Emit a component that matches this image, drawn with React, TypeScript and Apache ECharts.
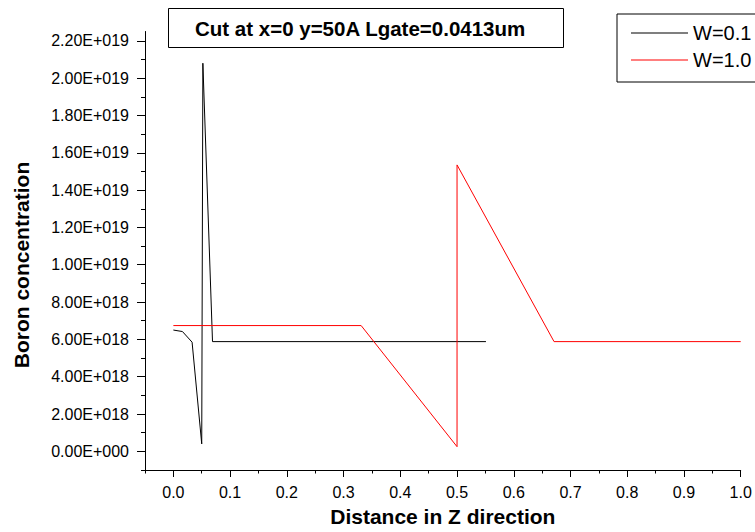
import React, { useEffect, useRef } from 'react';
import * as echarts from 'echarts';

// W=0.1 series (black)
const w01X = [0, 0.016, 0.033, 0.05, 0.052, 0.069, 0.551];
const w01Y = [6.5e18, 6.42e18, 5.85e18, 0.4e18, 2.08e19, 5.88e18, 5.88e18];
// W=1.0 series (red)
const w10X = [0, 0.331, 0.5, 0.5, 0.671, 1.0];
const w10Y = [6.74e18, 6.74e18, 0.25e18, 1.535e19, 5.88e18, 5.88e18];

const seriesNames = ['W=0.1', 'W=1.0'];
const seriesColors = ['#000000', '#ff0000'];

const xMajorTicks = [0, 0.1, 0.2, 0.3, 0.4, 0.5, 0.6, 0.7, 0.8, 0.9, 1.0];
const xMinorTicks = [-0.05, 0.05, 0.15, 0.25, 0.35, 0.45, 0.55, 0.65, 0.75, 0.85, 0.95];
const yMajorTicks = [0, 2e18, 4e18, 6e18, 8e18, 1e19, 1.2e19, 1.4e19, 1.6e19, 1.8e19, 2e19, 2.2e19];
const yMinorTicks = [-1e18, 1e18, 3e18, 5e18, 7e18, 9e18, 1.1e19, 1.3e19, 1.5e19, 1.7e19, 1.9e19, 2.1e19];

const chartTitle = 'Cut at x=0 y=50A Lgate=0.0413um';
const xTitle = 'Distance in Z direction';
const yTitle = 'Boron concentration';

const FONT = '"Liberation Sans", Arial, sans-serif';

function fmtE(v: number): string {
  if (v === 0) return '0.00E+000';
  const e = Math.floor(Math.log10(Math.abs(v)) + 1e-9);
  const m = v / Math.pow(10, e);
  return m.toFixed(2) + 'E+' + String(e).padStart(3, '0');
}

export default function App() {
  const ref = useRef<HTMLDivElement>(null);
  useEffect(() => {
    if (!ref.current) return;
    const chart = echarts.init(ref.current, null, { renderer: 'svg' });
    const xRange = { min: -0.05, max: 1.0 };
    const yRange = { min: -1e18, max: 2.25e19 };
    chart.setOption({
      animation: false,
      backgroundColor: '#ffffff',
      textStyle: { fontFamily: FONT, color: '#000' },
      title: {
        text: chartTitle,
        left: 168,
        top: 8,
        padding: [10, 38, 9, 27],
        borderColor: '#000',
        borderWidth: 1,
        textStyle: { fontFamily: FONT, fontSize: 20.5, fontWeight: 'bold', color: '#000' },
      },
      legend: {
        data: seriesNames,
        orient: 'vertical',
        left: 617,
        top: 14,
        padding: [9, 70, 12, 14],
        itemGap: 7,
        itemWidth: 57,
        itemHeight: 1,
        icon: 'rect',
        borderColor: '#000',
        borderWidth: 1,
        textStyle: { fontFamily: FONT, fontSize: 20, color: '#000' },
      },
      grid: { left: 145, right: 14.3, top: 31.5, bottom: 60.3, containLabel: false },
      xAxis: [
        {
          type: 'value',
          position: 'bottom',
          ...xRange,
          name: xTitle,
          nameLocation: 'middle',
          nameGap: 36,
          nameTextStyle: { fontFamily: FONT, fontSize: 21, fontWeight: 'bold', color: '#000' },
          axisLine: { show: true, onZero: false, lineStyle: { color: '#000', width: 1 } },
          axisTick: { show: true, length: 7, customValues: xMajorTicks, lineStyle: { color: '#000' } },
          axisLabel: {
            show: true,
            customValues: xMajorTicks,
            margin: 14,
            fontFamily: FONT,
            fontSize: 16,
            color: '#000',
            formatter: (v: number) => v.toFixed(1),
          },
          splitLine: { show: false },
        },
        {
          type: 'value',
          position: 'bottom',
          ...xRange,
          axisLine: { show: false, onZero: false },
          axisTick: { show: true, length: 3.5, customValues: xMinorTicks, lineStyle: { color: '#000' } },
          axisLabel: { show: false },
          splitLine: { show: false },
        },
      ],
      yAxis: [
        {
          type: 'value',
          position: 'left',
          ...yRange,
          axisLine: { show: true, onZero: false, lineStyle: { color: '#000', width: 1 } },
          axisTick: { show: true, length: 8, customValues: yMajorTicks, lineStyle: { color: '#000' } },
          axisLabel: {
            show: true,
            customValues: yMajorTicks,
            margin: 16,
            fontFamily: FONT,
            fontSize: 16,
            color: '#000',
            formatter: (v: number) => fmtE(v),
          },
          splitLine: { show: false },
        },
        {
          type: 'value',
          position: 'left',
          ...yRange,
          axisLine: { show: false, onZero: false },
          axisTick: { show: true, length: 4, customValues: yMinorTicks, lineStyle: { color: '#000' } },
          axisLabel: { show: false },
          splitLine: { show: false },
        },
      ],
      graphic: [
        {
          type: 'text',
          x: 21,
          y: 265,
          rotation: Math.PI / 2,
          style: {
            text: yTitle,
            font: 'bold 21px ' + FONT,
            fill: '#000',
            align: 'center',
            verticalAlign: 'middle',
          },
        },
      ],
      series: [
        {
          name: seriesNames[0],
          type: 'line',
          xAxisIndex: 0,
          yAxisIndex: 0,
          data: w01X.map((x, i) => [x, w01Y[i]]),
          showSymbol: false,
          symbol: 'none',
          color: seriesColors[0],
          lineStyle: { color: seriesColors[0], width: 1 },
        },
        {
          name: seriesNames[1],
          type: 'line',
          xAxisIndex: 0,
          yAxisIndex: 0,
          data: w10X.map((x, i) => [x, w10Y[i]]),
          showSymbol: false,
          symbol: 'none',
          color: seriesColors[1],
          lineStyle: { color: seriesColors[1], width: 1 },
        },
      ],
    });
    return () => chart.dispose();
  }, []);
  return (
    <div
      ref={ref}
      style={{ position: 'fixed', left: 0, top: 0, width: 755, height: 532, background: '#fff' }}
    />
  );
}
